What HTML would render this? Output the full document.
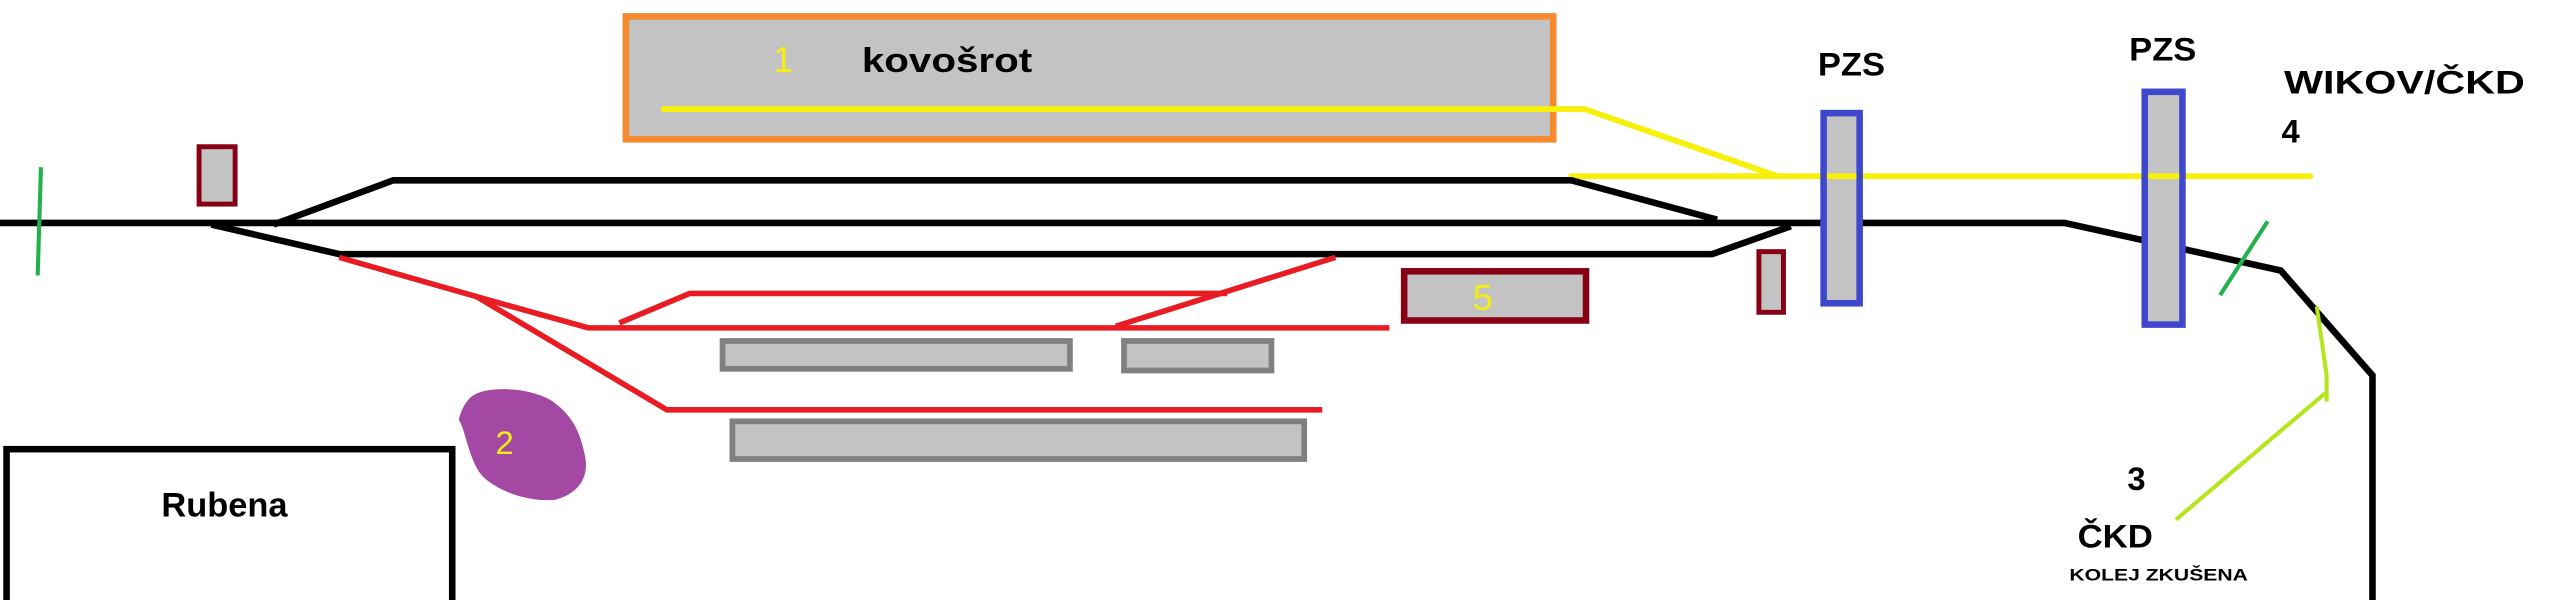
<!DOCTYPE html>
<html><head><meta charset="utf-8"><style>html,body{margin:0;padding:0;background:#fff}svg{display:block}</style></head>
<body>
<svg width="2556" height="600" viewBox="0 0 1560 366" preserveAspectRatio="none" xmlns="http://www.w3.org/2000/svg" font-family="'Liberation Sans', sans-serif" font-weight="bold">
<rect x="0" y="0" width="1560" height="366" fill="#fff"/>
<!-- kovosrot -->
<rect x="382" y="10" width="566" height="75" fill="#c3c3c3" stroke="#f58a2f" stroke-width="4"/>
<text x="478" y="44" font-size="22" fill="#f5ef10" text-anchor="middle" font-weight="normal">1</text>
<text x="526" y="44" font-size="21" fill="#000" textLength="104" lengthAdjust="spacingAndGlyphs">kovošrot</text>
<polyline points="405,66.5 967,66.5 1085,107.5" fill="none" stroke="#f7ef0c" stroke-width="3.6" stroke-linecap="round"/>
<line x1="959" y1="107.5" x2="1410" y2="107.5" stroke="#f7ef0c" stroke-width="3.6" stroke-linecap="round"/>
<!-- black tracks -->
<g fill="none" stroke="#000" stroke-width="4">
<polyline points="0,136 1260,136 1392,165 1448,229 1448,366"/>
<polyline points="167,137 240,110 959,110 1048,134"/>
<polyline points="129,137 207,155 1045,155 1093,138"/>
</g>
<!-- red tracks -->
<g fill="none" stroke="#e91c24" stroke-width="3.4">
<polyline points="207,157 291,181 359,200 848,200"/>
<polyline points="291,181 407,250 807,250"/>
<polyline points="378,197 421,179 749,179"/>
<line x1="815" y1="157" x2="681" y2="199"/>
</g>
<!-- platforms -->
<rect x="441" y="208" width="212" height="17" fill="#c3c3c3" stroke="#808080" stroke-width="3.5"/>
<rect x="686" y="208" width="90" height="18" fill="#c3c3c3" stroke="#808080" stroke-width="3.5"/>
<rect x="447" y="257" width="349" height="23" fill="#c3c3c3" stroke="#808080" stroke-width="3.5"/>
<!-- signals / small boxes -->
<line x1="25" y1="102" x2="23" y2="168" stroke="#22b14c" stroke-width="2.5"/>
<rect x="121.5" y="89.5" width="22" height="35" fill="#c3c3c3" stroke="#880015" stroke-width="3"/>
<rect x="857" y="165.5" width="111" height="30" fill="#c3c3c3" stroke="#880015" stroke-width="4"/>
<text x="905" y="189" font-size="22" fill="#f5ef10" text-anchor="middle" font-weight="normal">5</text>
<rect x="1073.5" y="153.5" width="15" height="37" fill="#c3c3c3" stroke="#880015" stroke-width="3"/>
<rect x="1113" y="69" width="22" height="116" fill="#c3c3c3" stroke="#3f48cc" stroke-width="4"/>
<rect x="1309" y="56" width="23" height="142" fill="#c3c3c3" stroke="#3f48cc" stroke-width="4"/>
<line x1="1115" y1="107.5" x2="1133" y2="107.5" stroke="#f7ef0c" stroke-width="3.6"/>
<line x1="1311" y1="107.5" x2="1330" y2="107.5" stroke="#f7ef0c" stroke-width="3.6"/>
<line x1="1384" y1="135" x2="1355" y2="180" stroke="#22b14c" stroke-width="2.5"/>
<polyline points="1414,187 1420,229 1420,245" fill="none" stroke="#b5e61d" stroke-width="2.5"/>
<line x1="1419" y1="240" x2="1328" y2="317" stroke="#b5e61d" stroke-width="2.5"/>
<!-- purple blob -->
<path d="M291,240 C300,236 322,236 336,244 C348,252 354,262 357,278 C360,292 352,302 338,305 C322,306 304,300 294,290 C286,280 284,262 280,256 C282,248 286,242 291,240 Z" fill="#a349a4"/>
<text x="308" y="277" font-size="20" fill="#f5ef10" text-anchor="middle" font-weight="normal">2</text>
<!-- Rubena -->
<rect x="4" y="274" width="272" height="100" fill="none" stroke="#000" stroke-width="4"/>
<text x="137" y="315" font-size="21" fill="#000" text-anchor="middle">Rubena</text>
<!-- labels -->
<text x="1130" y="46" font-size="20" text-anchor="middle" textLength="41" lengthAdjust="spacingAndGlyphs">PZS</text>
<text x="1320" y="37" font-size="20" text-anchor="middle" textLength="41" lengthAdjust="spacingAndGlyphs">PZS</text>
<text x="1394" y="57" font-size="20" textLength="147" lengthAdjust="spacingAndGlyphs">WIKOV/ČKD</text>
<text x="1398" y="87" font-size="20" text-anchor="middle">4</text>
<text x="1304" y="299" font-size="20" text-anchor="middle">3</text>
<text x="1268" y="334" font-size="20" textLength="46" lengthAdjust="spacingAndGlyphs">ČKD</text>
<text x="1263" y="354" font-size="10" textLength="109" lengthAdjust="spacingAndGlyphs">KOLEJ ZKUŠENA</text>
</svg>
</body></html>
